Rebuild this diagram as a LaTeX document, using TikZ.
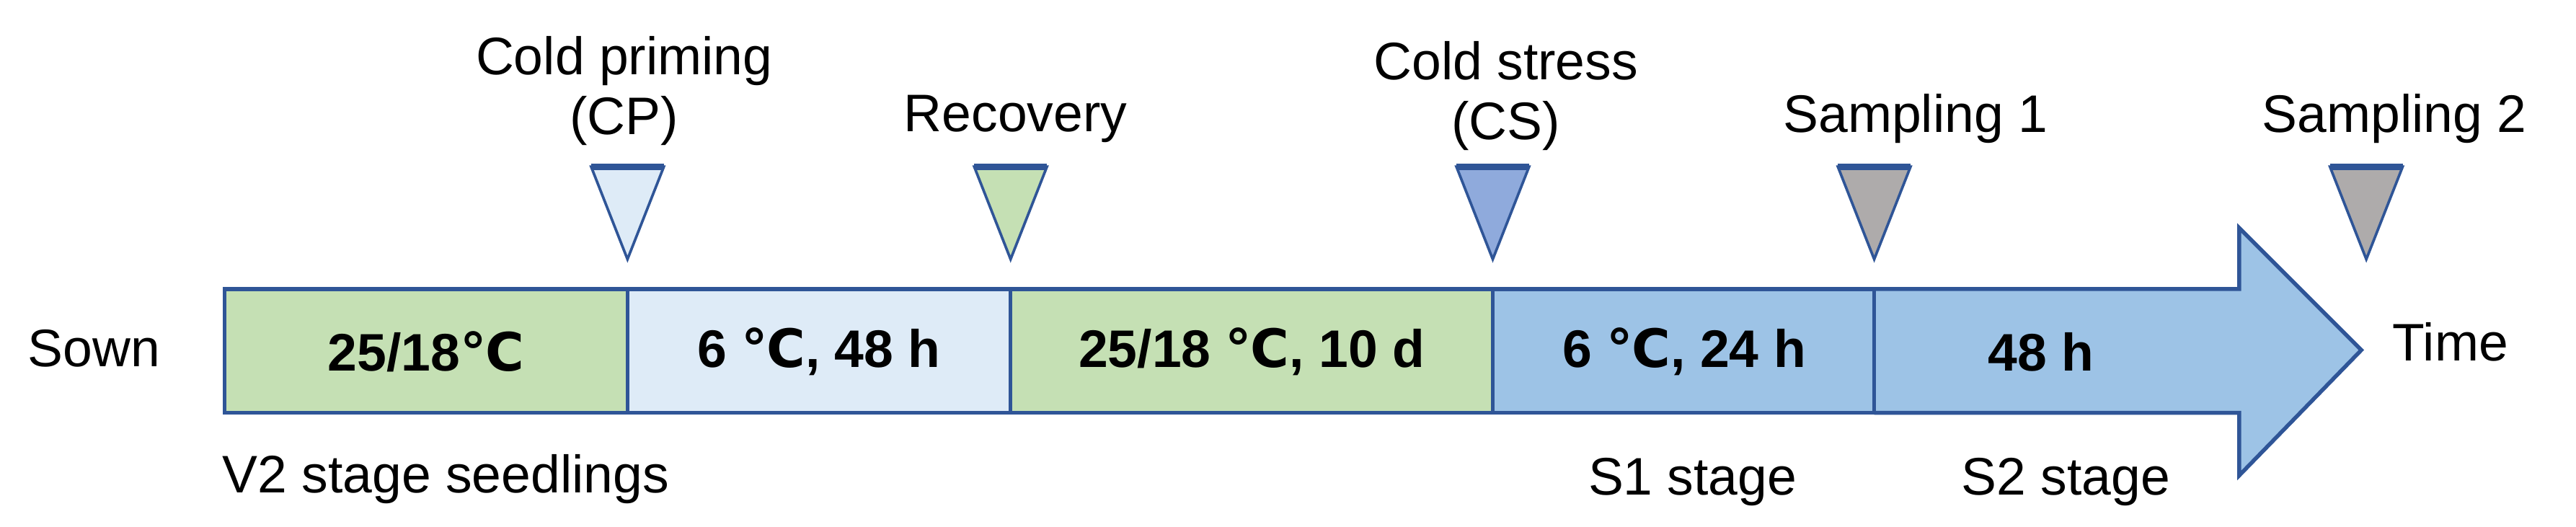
\documentclass[tikz,border=0pt]{standalone}
\usepackage{fontspec}
\setmainfont{Liberation Sans}
\newfontfamily\djv{DejaVu Sans}
\newcommand{\degc}{{\djv ℃}}
\begin{document}
\begin{tikzpicture}[x=0.5pt,y=-0.5pt,
  bd/.style={draw=bdr,line width=1.2pt},
  tri/.style={draw=bdr,line width=0.8pt,line join=miter},
  lab/.style={font=\fontsize{16}{18}\selectfont,align=center},
  blab/.style={font=\fontsize{16}{18}\selectfont\bfseries}]
\definecolor{bdr}{HTML}{2F5597}
\definecolor{gr}{HTML}{C5E0B4}
\definecolor{lb}{HTML}{DEEBF7}
\definecolor{mb}{HTML}{9DC3E6}
\definecolor{cs}{HTML}{8FAADC}
\definecolor{gy}{HTML}{AEABAB}
\useasboundingbox (0,0) rectangle (1560,319);
% arrow
\draw[bd,fill=mb,line join=miter] (1135,175) -- (1356,175) -- (1356,138) -- (1430,212) -- (1356,288) -- (1356,250) -- (1135,250);
\draw[bd,fill=gr] (136,175) rectangle (380,250);
\draw[bd,fill=lb] (380,175) rectangle (612,250);
\draw[bd,fill=gr] (612,175) rectangle (904,250);
\draw[bd,fill=mb] (904,175) rectangle (1135,250);
\draw[draw=bdr,line width=0.8pt] (380,175)--(380,250) (612,175)--(612,250) (904,175)--(904,250) (1135,175)--(1135,250);
\node[blab] (b1) at (258,213) {25/18\degc};
\node[blab] (b2) at (496,213) {6 \degc, 48 h};
\node[blab] (b3) at (758,213) {25/18 \degc, 10 d};
\node[blab] (b4) at (1020,213) {6 \degc, 24 h};
\node[blab] (b5) at (1236,213) {48 h};
% triangles
\foreach \x/\c in {380/lb,612/gr,904/cs,1135/gy,1433/gy}
  \draw[tri,fill=\c] (\x-22,101) -- (\x+22,101) -- (\x,157) -- cycle;
\foreach \x in {380,612,904,1135,1433}
  \draw[bdr,line width=2pt] (\x-22,101) -- (\x+22,101);
\node[lab] (t1) at (378,55) {Cold priming\\(CP)};
\node[lab] (t2) at (615,72) {Recovery};
\node[lab] (t3) at (912,58) {Cold stress\\(CS)};
\node[lab] (t4) at (1160,72) {Sampling 1};
\node[lab] (t5) at (1450,72) {Sampling 2};
\node[lab] (sown) at (57,211) {Sown};
\node[lab] (time) at (1484,207) {Time};
\node[lab] (v2) at (270,290) {V2 stage seedlings};
\node[lab] (s1) at (1025,292) {S1 stage};
\node[lab] (s2) at (1251,292) {S2 stage};
\end{tikzpicture}
\end{document}
